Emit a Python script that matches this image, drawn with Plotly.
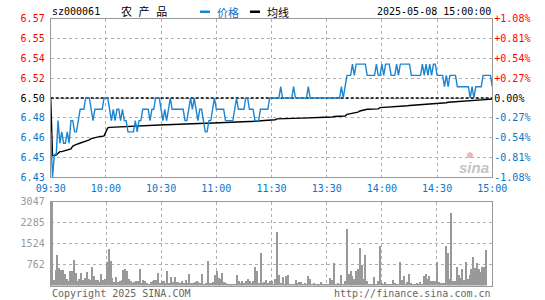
import plotly.graph_objects as go

# ---------------- data ----------------
prev_close = 6.50
pct_step = 0.27          # percent per grid step
code = "sz000061"
stock_name = "农 产 品"
stamp = "2025-05-08 15:00:00"
time_labels = ["09:30", "10:00", "10:30", "11:00", "11:30",
               "13:30", "14:00", "14:30", "15:00"]

price = [
    6.47, 6.43, 6.45, 6.45, 6.48, 6.46, 6.47, 6.46, 6.46, 6.47,
    6.46, 6.48, 6.48, 6.47, 6.47, 6.48, 6.49, 6.49, 6.49, 6.50,
    6.50, 6.50, 6.49, 6.48, 6.49, 6.49, 6.49, 6.49, 6.49, 6.50,
    6.50, 6.50, 6.49, 6.48, 6.49, 6.48, 6.49, 6.49, 6.48, 6.49,
    6.48, 6.48, 6.47, 6.47, 6.47, 6.47, 6.48, 6.47, 6.48, 6.48,
    6.49, 6.49, 6.49, 6.49, 6.48, 6.49, 6.49, 6.50, 6.50, 6.50,
    6.49, 6.48, 6.49, 6.48, 6.49, 6.50, 6.49, 6.49, 6.49, 6.49,
    6.49, 6.49, 6.49, 6.48, 6.48, 6.49, 6.50, 6.49, 6.50, 6.49,
    6.48, 6.49, 6.49, 6.48, 6.47, 6.47, 6.48, 6.48, 6.49, 6.50,
    6.49, 6.49, 6.49, 6.49, 6.49, 6.48, 6.48, 6.48, 6.48, 6.48,
    6.49, 6.50, 6.49, 6.49, 6.49, 6.49, 6.50, 6.50, 6.49, 6.49,
    6.49, 6.48, 6.48, 6.48, 6.49, 6.49, 6.49, 6.49, 6.49, 6.50,
    6.50, 6.50, 6.50, 6.50, 6.50, 6.51, 6.50, 6.50, 6.50, 6.50,
    6.50, 6.50, 6.51, 6.50, 6.50, 6.50, 6.50, 6.50, 6.50, 6.50,
    6.51, 6.50, 6.50, 6.50, 6.50, 6.50, 6.50, 6.50, 6.50, 6.50,
    6.50, 6.50, 6.50, 6.50, 6.50, 6.50, 6.50, 6.50, 6.51, 6.50,
    6.51, 6.52, 6.52, 6.52, 6.53, 6.52, 6.53, 6.53, 6.53, 6.53,
    6.53, 6.53, 6.52, 6.52, 6.52, 6.52, 6.52, 6.53, 6.52, 6.52,
    6.53, 6.52, 6.53, 6.53, 6.53, 6.52, 6.52, 6.52, 6.53, 6.52,
    6.53, 6.53, 6.53, 6.53, 6.53, 6.53, 6.52, 6.52, 6.52, 6.52,
    6.52, 6.52, 6.53, 6.52, 6.53, 6.52, 6.53, 6.52, 6.53, 6.53,
    6.52, 6.52, 6.52, 6.52, 6.51, 6.52, 6.51, 6.52, 6.52, 6.52,
    6.52, 6.51, 6.51, 6.51, 6.51, 6.51, 6.51, 6.51, 6.50, 6.51,
    6.50, 6.51, 6.51, 6.51, 6.51, 6.52, 6.52, 6.52, 6.52, 6.52,
    6.51,
]

avg_price = [
    6.5000, 6.4490, 6.4490, 6.4495, 6.4510, 6.4525, 6.4525, 6.4530, 6.4540, 6.4545,
    6.4545, 6.4550, 6.4575, 6.4585, 6.4590, 6.4595, 6.4600, 6.4610, 6.4615, 6.4620,
    6.4625, 6.4630, 6.4640, 6.4645, 6.4650, 6.4655, 6.4655, 6.4660, 6.4660, 6.4665,
    6.4700, 6.4735, 6.4740, 6.4741, 6.4742, 6.4742, 6.4743, 6.4744, 6.4745, 6.4746,
    6.4747, 6.4748, 6.4749, 6.4750, 6.4750, 6.4751, 6.4751, 6.4753, 6.4754, 6.4754,
    6.4755, 6.4755, 6.4756, 6.4756, 6.4757, 6.4757, 6.4758, 6.4759, 6.4760, 6.4761,
    6.4762, 6.4762, 6.4763, 6.4763, 6.4764, 6.4765, 6.4765, 6.4766, 6.4766, 6.4767,
    6.4767, 6.4768, 6.4768, 6.4769, 6.4770, 6.4770, 6.4771, 6.4772, 6.4774, 6.4775,
    6.4775, 6.4776, 6.4776, 6.4777, 6.4777, 6.4776, 6.4777, 6.4777, 6.4778, 6.4779,
    6.4780, 6.4780, 6.4781, 6.4781, 6.4782, 6.4782, 6.4782, 6.4783, 6.4783, 6.4784,
    6.4786, 6.4787, 6.4788, 6.4789, 6.4789, 6.4790, 6.4791, 6.4791, 6.4792, 6.4792,
    6.4793, 6.4795, 6.4796, 6.4798, 6.4800, 6.4802, 6.4802, 6.4803, 6.4804, 6.4805,
    6.4806, 6.4807, 6.4808, 6.4815, 6.4816, 6.4817, 6.4818, 6.4818, 6.4819, 6.4820,
    6.4820, 6.4820, 6.4821, 6.4821, 6.4821, 6.4822, 6.4822, 6.4822, 6.4823, 6.4823,
    6.4825, 6.4826, 6.4826, 6.4827, 6.4827, 6.4827, 6.4828, 6.4828, 6.4828, 6.4829,
    6.4829, 6.4829, 6.4830, 6.4831, 6.4836, 6.4836, 6.4837, 6.4838, 6.4838, 6.4839,
    6.4840, 6.4855, 6.4858, 6.4861, 6.4864, 6.4868, 6.4871, 6.4875, 6.4885, 6.4890,
    6.4892, 6.4899, 6.4900, 6.4900, 6.4901, 6.4901, 6.4903, 6.4903, 6.4904, 6.4915,
    6.4916, 6.4916, 6.4917, 6.4917, 6.4918, 6.4918, 6.4919, 6.4920, 6.4920, 6.4921,
    6.4926, 6.4927, 6.4929, 6.4930, 6.4932, 6.4934, 6.4935, 6.4935, 6.4936, 6.4936,
    6.4937, 6.4937, 6.4939, 6.4941, 6.4942, 6.4943, 6.4944, 6.4945, 6.4946, 6.4950,
    6.4951, 6.4951, 6.4952, 6.4952, 6.4952, 6.4958, 6.4962, 6.4963, 6.4970, 6.4970,
    6.4971, 6.4972, 6.4972, 6.4973, 6.4974, 6.4975, 6.4975, 6.4976, 6.4977, 6.4978,
    6.4979, 6.4980, 6.4980, 6.4981, 6.4982, 6.4983, 6.4986, 6.4987, 6.4988, 6.4989,
    6.4990,
]

volume = [
    3047, 210, 570, 1136, 665, 590, 590, 450, 265, 170,
    530, 556, 930, 485, 170, 265, 485, 205, 290, 510,
    265, 205, 690, 360, 205, 205, 145, 450, 205, 265,
    870, 1354, 920, 300, 145, 325, 145, 180, 205, 570,
    630, 530, 265, 170, 120, 145, 180, 170, 630, 100,
    205, 190, 120, 75, 145, 170, 230, 220, 485, 100,
    170, 170, 100, 556, 100, 315, 145, 325, 145, 145,
    120, 190, 100, 220, 100, 450, 110, 100, 145, 170,
    145, 100, 450, 75, 100, 920, 100, 120, 145, 385,
    556, 290, 240, 485, 145, 100, 75, 75, 75, 75,
    75, 410, 190, 100, 170, 100, 190, 240, 170, 100,
    170, 700, 530, 100, 1209, 100, 145, 220, 100, 190,
    170, 85, 265, 1959, 410, 120, 340, 85, 360, 385,
    75, 75, 75, 220, 100, 145, 145, 75, 120, 75,
    360, 240, 75, 120, 50, 75, 75, 145, 75, 50,
    50, 50, 290, 230, 835, 75, 120, 75, 410, 75,
    190, 2080, 450, 556, 360, 240, 556, 605, 1378, 750,
    265, 1136, 190, 50, 50, 75, 315, 75, 170, 1450,
    100, 75, 145, 75, 75, 75, 220, 120, 75, 75,
    870, 205, 360, 75, 145, 435, 100, 75, 75, 120,
    75, 145, 75, 360, 435, 265, 360, 190, 170, 170,
    870, 145, 120, 120, 100, 1450, 1209, 240, 2660, 170,
    170, 690, 410, 290, 605, 205, 870, 265, 385, 605,
    1040, 650, 845, 630, 510, 690, 690, 1290, 0, 0,
    0,
]

# ---------------- styling ----------------
W, H = 545, 300
PL, PR = 50.7, 492.3            # plot left / right (px)
MAIN_T, MAIN_B = 18.7, 177.3    # main panel top / bottom (px)
VOL_T, VOL_B = 201.5, 285.5     # volume panel top / bottom (px)

RED = "#ff0000"
BLUE_TXT = "#0a74c9"
BLUE_LINE = "#1a86d2"
GRAY = "#999999"
GRID = "#b0b0b0"
MONO = "DejaVu Sans Mono, Noto Sans CJK SC, monospace"
CJK = "Noto Sans CJK SC, DejaVu Sans"

def px_x(p):
    return p / W

def px_y(p):
    return 1 - p / H

minutes = list(range(len(price)))
last = len(price) - 1
steps = 4
pct_ticks = [k * pct_step for k in range(-steps, steps + 1)]
price_ticks = [prev_close * (1 + p / 100) for p in pct_ticks]
pct_lo, pct_hi = pct_ticks[0], pct_ticks[-1]

def colored(txt, v):
    c = RED if v > 0 else ("#000000" if v == 0 else BLUE_TXT)
    return f'<span style="color:{c}">{txt}</span>'

left_text = [colored(f"{pv:.2f}", round(p, 4)) for pv, p in zip(price_ticks, pct_ticks)]
right_text = [colored(("+" if p > 0 else "") + f"{p:.2f}%", round(p, 4)) for p in pct_ticks]

time_ticks = [i * 30 for i in range(len(time_labels))]
vmax = max(volume)
vol_ticks = [vmax * k / 4 for k in range(1, 5)]
vol_text = [f"{v:.0f}" for v in vol_ticks]
pct_series = [(p / prev_close - 1) * 100 for p in price]

fig = go.Figure()

fig.add_trace(go.Scatter(x=minutes, y=[prev_close] * len(minutes), mode="lines",
                         line=dict(color="#000000", width=1.3, dash="3px,2px"),
                         xaxis="x", yaxis="y", hoverinfo="skip", showlegend=False))
fig.add_trace(go.Scatter(x=minutes, y=avg_price, mode="lines",
                         line=dict(color="#000000", width=1.4),
                         xaxis="x", yaxis="y", showlegend=False))
fig.add_trace(go.Scatter(x=minutes, y=price, mode="lines",
                         line=dict(color=BLUE_LINE, width=1.4),
                         xaxis="x", yaxis="y", showlegend=False))
fig.add_trace(go.Scatter(x=minutes, y=pct_series, mode="lines",
                         line=dict(width=0, color="rgba(0,0,0,0)"),
                         xaxis="x", yaxis="y2", hoverinfo="skip", showlegend=False))
fig.add_trace(go.Bar(x=minutes, y=volume, width=0.6,
                     marker=dict(color=GRAY, line=dict(width=0)),
                     xaxis="x2", yaxis="y3", showlegend=False))

axis_common = dict(showline=True, mirror=True, linecolor=GRAY, linewidth=1,
                   showgrid=True, gridcolor=GRID, gridwidth=1, griddash="dot",
                   zeroline=False, ticks="", fixedrange=True, automargin=False)

fig.update_layout(
    width=W, height=H,
    margin=dict(l=0, r=0, t=0, b=0, pad=0, autoexpand=False),
    paper_bgcolor="white", plot_bgcolor="white",
    bargap=0,
    xaxis=dict(domain=[px_x(PL), px_x(PR)], range=[0, last], anchor="y",
               tickmode="array", tickvals=time_ticks, ticktext=time_labels,
               tickfont=dict(family=MONO, size=10, color=BLUE_TXT),
               ticklabelstandoff=2, **axis_common),
    yaxis=dict(domain=[px_y(MAIN_B), px_y(MAIN_T)], range=[price_ticks[0], price_ticks[-1]],
               anchor="x", tickmode="array", tickvals=price_ticks, ticktext=left_text,
               tickfont=dict(family=MONO, size=10), ticklabelstandoff=3, **axis_common),
    yaxis2=dict(overlaying="y", side="right", anchor="x", range=[pct_lo, pct_hi],
                tickmode="array", tickvals=pct_ticks, ticktext=right_text,
                tickfont=dict(family=MONO, size=10), showgrid=False, zeroline=False,
                showline=False, ticks="", fixedrange=True, ticklabelstandoff=1,
                automargin=False),
    xaxis2=dict(domain=[px_x(PL), px_x(PR)], range=[-0.5, last + 0.5], anchor="y3",
                tickmode="array", tickvals=time_ticks, showticklabels=False, **axis_common),
    yaxis3=dict(domain=[px_y(VOL_B), px_y(VOL_T)], range=[0, vmax], anchor="x2",
                tickmode="array", tickvals=vol_ticks, ticktext=vol_text,
                tickfont=dict(family=MONO, size=10, color=GRAY), ticklabelstandoff=3,
                **axis_common),
)

ann = []
def text(x, y, s, color="#000000", size=10, family=MONO, anchor="left", **kw):
    ann.append(dict(x=px_x(x), y=px_y(y), xref="paper", yref="paper", text=s,
                    showarrow=False, xanchor=anchor, yanchor="middle",
                    font=dict(family=family, size=size, color=color), **kw))

text(49.5, 11.5, code)
text(119, 11.5, stock_name, size=11)
text(215, 11.5, "价格", color=BLUE_TXT, family=CJK, size=11)
text(265, 11.5, "均线", family=CJK, size=11)
text(492.5, 11.5, stamp, anchor="right")
text(49.5, 293, "Copyright 2025 SINA.COM", color="#666666")
text(492.5, 293, "http://finance.sina.com.cn", color="#666666", anchor="right")
text(470, 154, "●", color="rgba(225,90,90,0.45)", size=10, anchor="center")
text(474, 167, "<b><i>sina</i></b>", color="#c4c4c4", size=15,
     family="Liberation Sans, Arial", anchor="center")
fig.update_layout(annotations=ann)

fig.update_layout(shapes=[
    dict(type="rect", xref="paper", yref="paper", x0=px_x(200), x1=px_x(210),
         y0=px_y(13), y1=px_y(10.5), fillcolor=BLUE_LINE, line=dict(width=0)),
    dict(type="rect", xref="paper", yref="paper", x0=px_x(250), x1=px_x(260),
         y0=px_y(13), y1=px_y(10.5), fillcolor="#000000", line=dict(width=0)),
])

fig.write_html("out.html", config={"displayModeBar": False},
               post_script="document.body.style.margin='0';document.body.style.padding='0';")
